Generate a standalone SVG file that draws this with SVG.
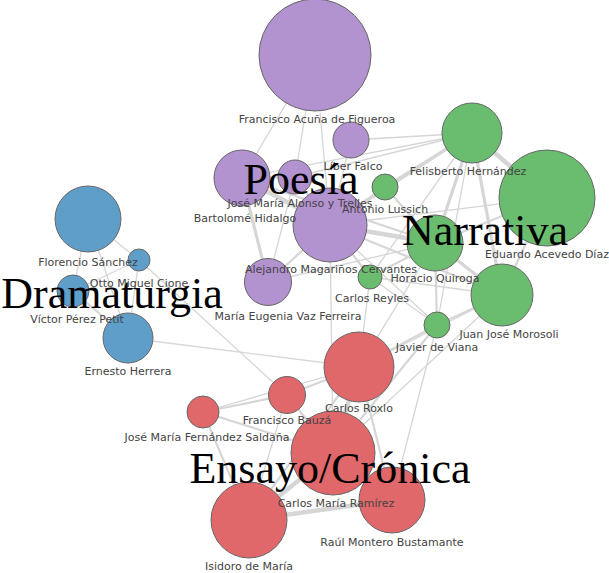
<svg xmlns="http://www.w3.org/2000/svg" width="609" height="573" viewBox="0 0 609 573">
<style>
.e{stroke:#d6d6d6;stroke-linecap:round;fill:none}
.w1{stroke-width:1.3}
.w2{stroke-width:2.2}
.w3{stroke-width:3.2}
.w4{stroke-width:4.5}
circle{stroke:#666;stroke-width:1}
.p{fill:#b392d0}
.g{fill:#6abd6e}
.b{fill:#5f9ec9}
.r{fill:#e0676a}
.lb{font-family:"DejaVu Sans",sans-serif;font-size:11px;fill:#444;text-anchor:middle}
.cat{font-family:"Liberation Serif",serif;font-size:44px;fill:#000;text-anchor:middle}
</style>
<rect width="609" height="573" fill="#fff"/>
<g id="edges">
<line class="e w1" x1="315" y1="55" x2="242" y2="178"/>
<line class="e w1" x1="315" y1="55" x2="295" y2="177"/>
<line class="e w1" x1="315" y1="55" x2="330" y2="225"/>
<line class="e w4" x1="242" y1="178" x2="330" y2="225"/>
<line class="e w2" x1="295" y1="177" x2="330" y2="225"/>
<line class="e w2" x1="242" y1="178" x2="295" y2="177"/>
<line class="e w3" x1="242" y1="178" x2="268" y2="282"/>
<line class="e w1" x1="295" y1="177" x2="268" y2="282"/>
<line class="e w2" x1="330" y1="225" x2="268" y2="282"/>
<line class="e w1" x1="351" y1="140" x2="330" y2="225"/>
<line class="e w1" x1="242" y1="178" x2="472" y2="133"/>
<line class="e w1" x1="295" y1="177" x2="472" y2="133"/>
<line class="e w1" x1="351" y1="140" x2="472" y2="133"/>
<line class="e w2" x1="330" y1="225" x2="385" y2="187"/>
<line class="e w4" x1="330" y1="225" x2="435" y2="243"/>
<line class="e w2" x1="330" y1="225" x2="370" y2="277"/>
<line class="e w1" x1="330" y1="225" x2="547" y2="198"/>
<line class="e w2" x1="330" y1="225" x2="502" y2="295"/>
<line class="e w1" x1="330" y1="225" x2="437" y2="325"/>
<line class="e w2" x1="242" y1="178" x2="435" y2="243"/>
<line class="e w2" x1="330" y1="225" x2="472" y2="133"/>
<line class="e w1" x1="268" y1="282" x2="435" y2="243"/>
<line class="e w3" x1="385" y1="187" x2="472" y2="133"/>
<line class="e w4" x1="472" y1="133" x2="547" y2="198"/>
<line class="e w3" x1="472" y1="133" x2="435" y2="243"/>
<line class="e w3" x1="472" y1="133" x2="502" y2="295"/>
<line class="e w1" x1="472" y1="133" x2="437" y2="325"/>
<line class="e w1" x1="472" y1="133" x2="370" y2="277"/>
<line class="e w2" x1="547" y1="198" x2="435" y2="243"/>
<line class="e w2" x1="547" y1="198" x2="502" y2="295"/>
<line class="e w2" x1="435" y1="243" x2="370" y2="277"/>
<line class="e w2" x1="435" y1="243" x2="437" y2="325"/>
<line class="e w3" x1="435" y1="243" x2="502" y2="295"/>
<line class="e w1" x1="370" y1="277" x2="437" y2="325"/>
<line class="e w2" x1="437" y1="325" x2="502" y2="295"/>
<line class="e w2" x1="385" y1="187" x2="435" y2="243"/>
<line class="e w1" x1="370" y1="277" x2="502" y2="295"/>
<line class="e w1" x1="370" y1="277" x2="359" y2="367"/>
<line class="e w2" x1="437" y1="325" x2="359" y2="367"/>
<line class="e w2" x1="437" y1="325" x2="333" y2="453"/>
<line class="e w1" x1="502" y1="295" x2="359" y2="367"/>
<line class="e w1" x1="435" y1="243" x2="359" y2="367"/>
<line class="e w1" x1="437" y1="325" x2="392" y2="500"/>
<line class="e w1" x1="502" y1="295" x2="333" y2="453"/>
<line class="e w1" x1="330" y1="225" x2="333" y2="453"/>
<line class="e w1" x1="88" y1="219" x2="139" y2="260"/>
<line class="e w1" x1="88" y1="219" x2="73" y2="291"/>
<line class="e w1" x1="88" y1="219" x2="128" y2="338"/>
<line class="e w1" x1="139" y1="260" x2="73" y2="291"/>
<line class="e w1" x1="139" y1="260" x2="128" y2="338"/>
<line class="e w2" x1="73" y1="291" x2="128" y2="338"/>
<line class="e w1" x1="128" y1="338" x2="359" y2="367"/>
<line class="e w1" x1="139" y1="260" x2="287" y2="395"/>
<line class="e w2" x1="359" y1="367" x2="287" y2="395"/>
<line class="e w4" x1="359" y1="367" x2="333" y2="453"/>
<line class="e w2" x1="359" y1="367" x2="392" y2="500"/>
<line class="e w2" x1="287" y1="395" x2="203" y2="412"/>
<line class="e w2" x1="287" y1="395" x2="333" y2="453"/>
<line class="e w2" x1="203" y1="412" x2="333" y2="453"/>
<line class="e w2" x1="203" y1="412" x2="249" y2="520"/>
<line class="e w4" x1="333" y1="453" x2="392" y2="500"/>
<line class="e w4" x1="333" y1="453" x2="249" y2="520"/>
<line class="e w4" x1="392" y1="500" x2="249" y2="520"/>
<line class="e w2" x1="359" y1="367" x2="249" y2="520"/>
<line class="e w1" x1="287" y1="395" x2="249" y2="520"/>
<line class="e w1" x1="203" y1="412" x2="359" y2="367"/>
</g>
<g id="n-figueroa"><circle class="p" cx="315" cy="55" r="56"/></g>
<g id="n-falco"><circle class="p" cx="351" cy="140" r="18"/></g>
<g id="n-hidalgo"><circle class="p" cx="242" cy="178" r="28"/></g>
<g id="n-trelles"><circle class="p" cx="295" cy="177" r="17"/></g>
<g id="n-magarinos"><circle class="p" cx="330" cy="225" r="37"/></g>
<g id="n-vazferreira"><circle class="p" cx="268" cy="282" r="23.5"/></g>
<g id="n-lussich"><circle class="g" cx="385" cy="187" r="13"/></g>
<g id="n-felisberto"><circle class="g" cx="472" cy="133" r="30"/></g>
<g id="n-acevedo"><circle class="g" cx="547" cy="198" r="48"/></g>
<g id="n-quiroga"><circle class="g" cx="435" cy="243" r="28"/></g>
<g id="n-reyles"><circle class="g" cx="370" cy="277" r="12"/></g>
<g id="n-viana"><circle class="g" cx="437" cy="325" r="13"/></g>
<g id="n-morosoli"><circle class="g" cx="502" cy="295" r="31"/></g>
<g id="n-sanchez"><circle class="b" cx="88" cy="219" r="33"/></g>
<g id="n-cione"><circle class="b" cx="139" cy="260" r="11"/></g>
<g id="n-perezpetit"><circle class="b" cx="73" cy="291" r="16"/></g>
<g id="n-herrera"><circle class="b" cx="128" cy="338" r="25"/></g>
<g id="n-roxlo"><circle class="r" cx="359" cy="367" r="35"/></g>
<g id="n-bauza"><circle class="r" cx="287" cy="395" r="18.5"/></g>
<g id="n-saldana"><circle class="r" cx="203" cy="412" r="16"/></g>
<g id="n-ramirez"><circle class="r" cx="333" cy="453" r="42"/></g>
<g id="n-montero"><circle class="r" cx="392" cy="500" r="33"/></g>
<g id="n-isidoro"><circle class="r" cx="249" cy="520" r="38"/></g>
<g id="labels">
<text class="lb" x="317" y="123">Francisco Acuña de Figueroa</text>
<text class="lb" x="353" y="170">Líber Falco</text>
<text class="lb" x="245" y="222">Bartolomé Hidalgo</text>
<text class="lb" x="300" y="207">José María Alonso y Trelles</text>
<text class="lb" x="331" y="273">Alejandro Magariños Cervantes</text>
<text class="lb" x="288" y="320">María Eugenia Vaz Ferreira</text>
<text class="lb" x="385" y="213">Antonio Lussich</text>
<text class="lb" x="468" y="175">Felisberto Hernández</text>
<text class="lb" x="547" y="258">Eduardo Acevedo Díaz</text>
<text class="lb" x="435" y="282">Horacio Quiroga</text>
<text class="lb" x="372" y="302">Carlos Reyles</text>
<text class="lb" x="437" y="351">Javier de Viana</text>
<text class="lb" x="509" y="338">Juan José Morosoli</text>
<text class="lb" x="88" y="266">Florencio Sánchez</text>
<text class="lb" x="139" y="287">Otto Miguel Cione</text>
<text class="lb" x="77" y="323">Víctor Pérez Petit</text>
<text class="lb" x="128" y="375">Ernesto Herrera</text>
<text class="lb" x="359" y="412">Carlos Roxlo</text>
<text class="lb" x="287" y="424">Francisco Bauzá</text>
<text class="lb" x="207" y="441">José María Fernández Saldaña</text>
<text class="lb" x="336" y="507">Carlos María Ramírez</text>
<text class="lb" x="392" y="546">Raúl Montero Bustamante</text>
<text class="lb" x="249" y="570">Isidoro de María</text>
</g>
<g id="categories">
<text class="cat" x="301" y="194">Poesía</text>
<text class="cat" x="485" y="245">Narrativa</text>
<text class="cat" x="112" y="308">Dramaturgia</text>
<text class="cat" x="330" y="483">Ensayo/Crónica</text>
</g>
</svg>
